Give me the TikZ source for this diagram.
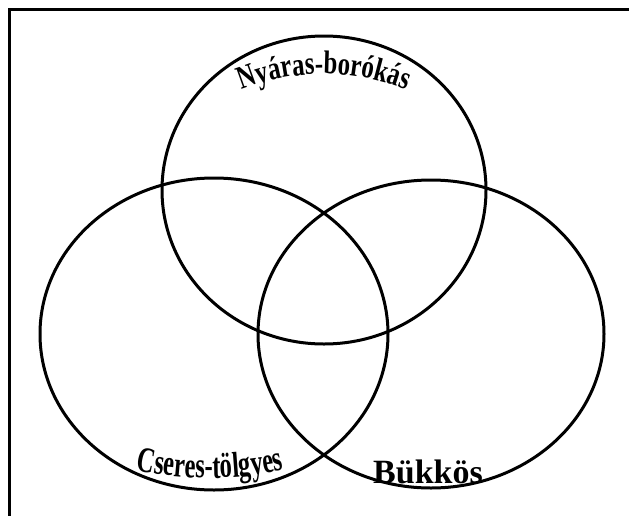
\documentclass[tikz,border=0pt]{standalone}
\usepackage{fontspec}
\setmainfont{Liberation Serif}
\newfontfamily\nyfont{Liberation Serif}[FakeStretch=0.76]
\newfontfamily\csfont{Liberation Serif}[FakeStretch=0.68]
\usetikzlibrary{decorations.text}
\tikzset{
  setring/.style={draw=black, line width=2.25pt},
  framerule/.style={draw=black, line width=2.25pt},
}
\begin{document}
\begin{tikzpicture}[x=0.75pt,y=0.75pt]
\useasboundingbox (0,0) rectangle (629,-515);
% frame (only top and left edges visible)
\coordinate (fbl) at (9.5,-520);
\coordinate (ftl) at (9.5,-9.5);
\coordinate (ftr) at (640,-9.5);
\begin{scope}
\clip (0,0) rectangle (629,-515);
\draw[framerule] (fbl) -- (ftl) -- (ftr);
\end{scope}
% three sets
\draw[setring] (324,-190) ellipse [x radius=162, y radius=154];
\draw[setring] (214,-334) ellipse [x radius=174, y radius=156];
\draw[setring] (431,-334) ellipse [x radius=173, y radius=154];
% curved labels
\path[decorate, decoration={text along path, text align=center,
  text={|\nyfont\fontsize{24.5}{26}\selectfont\bfseries|Nyáras-borókás}}]
  (324,-294) ++(125:220) arc[start angle=125, end angle=55, radius=220];
\path[decorate, decoration={text along path, text align=center,
  text={|\csfont\fontsize{27}{29}\selectfont\bfseries|Cseres-tölgyes}}]
  (210,-128) ++(250:350) arc[start angle=250, end angle=290, radius=350];
\node[anchor=base, inner sep=0pt, font=\fontsize{25.5}{27}\selectfont\bfseries] (bukk) at (428,-483) {Bükkös};
\end{tikzpicture}
\end{document}
